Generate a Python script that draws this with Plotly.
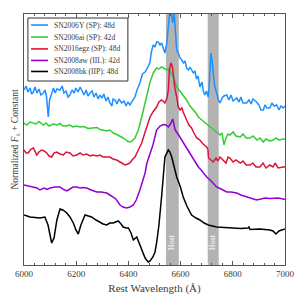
import plotly.graph_objects as go

# ---------------- data ----------------
names = ["SN2006Y (SP): 48d", "SN2006ai (SP): 42d", "SN2016egz (SP): 48d",
         "SN2008aw (IIL): 42d", "SN2008bk (IIP): 48d"]
colors = ["#1e90ff", "#32cd32", "#dc143c", "#9400d3", "#000000"]

wl_06Y = [6000,6008,6015,6023,6029,6036,6042,6050,6057,6065,6074,6080,6086,6093,6098,6106,6113,6119,6126,6138,
          6146,6153,6161,6169,6176,6184,6192,6199,6207,6215,6221,6230,6238,6245,6253,6261,6268,6276,6284,6291,
          6299,6306,6314,6322,6329,6337,6341,6349,6356,6364,6374,6383,6391,6398,6406,6414,6425,6433,6444,6454,
          6464,6473,6483,6488,6495,6502,6508,6514,6521,6527,6533,6540,6547,6552,6557,6561,6565,6570,6575,6580,
          6585,6590,6596,6604,6611,6617,6623,6630,6636,6649,6655,6661,6667,6674,6682,6688,6693,6699,6706,6711,
          6716,6720,6725,6730,6738,6745,6751,6759,6766,6777,6785,6793,6801,6815,6824,6831,6839,6853,6862,6870,
          6877,6891,6900,6908,6917,6923,6931,6942,6950,6958,6968,6977,6985,6993,7000]
fl_06Y = [1.75,1.79,1.73,1.77,1.71,1.73,1.78,1.72,1.76,1.70,1.72,1.75,1.69,1.48,1.65,1.72,1.77,1.72,1.76,1.75,
          1.79,1.72,1.74,1.68,1.70,1.75,1.72,1.77,1.73,1.78,1.75,1.70,1.75,1.69,1.72,1.74,1.68,1.72,1.66,1.70,
          1.67,1.71,1.64,1.68,1.62,1.59,1.66,1.65,1.61,1.66,1.62,1.64,1.59,1.63,1.60,1.64,1.68,1.75,1.82,1.91,
          1.93,1.97,2.03,2.13,2.20,2.18,2.23,2.23,2.20,2.22,2.18,2.12,2.22,2.40,2.53,2.60,2.50,2.42,2.53,2.35,
          2.15,2.13,2.08,2.05,2.02,2.04,1.97,1.95,1.98,1.92,1.94,1.86,1.89,1.78,1.83,1.73,1.70,1.74,1.68,1.85,
          2.12,2.05,1.95,1.80,1.72,1.65,1.62,1.67,1.69,1.70,1.65,1.70,1.64,1.67,1.63,1.68,1.62,1.62,1.65,1.61,
          1.66,1.63,1.60,1.55,1.55,1.60,1.57,1.57,1.62,1.59,1.60,1.55,1.59,1.57,1.59]

wl_06ai = [6000,6011,6023,6036,6046,6057,6074,6084,6096,6112,6126,6138,6149,6164,6176,6188,6199,6215,6230,6245,
           6265,6280,6291,6304,6318,6329,6342,6356,6368,6380,6391,6398,6406,6414,6425,6438,6451,6464,6475,6483,
           6495,6508,6517,6527,6534,6547,6555,6566,6575,6585,6594,6604,6613,6623,6636,6649,6659,6668,6681,6693,
           6713,6724,6738,6751,6759,6766,6774,6782,6789,6801,6812,6829,6839,6851,6866,6877,6893,6904,6917,6927,
           6942,6955,6965,6977,6993,7000]
fl_06ai = [1.42,1.40,1.43,1.42,1.41,1.435,1.40,1.42,1.39,1.41,1.40,1.415,1.39,1.39,1.40,1.38,1.39,1.38,1.385,1.365,
           1.37,1.375,1.355,1.35,1.34,1.35,1.32,1.305,1.29,1.27,1.25,1.235,1.23,1.24,1.27,1.35,1.48,1.62,1.73,1.83,
           1.92,1.97,1.96,1.98,1.97,1.95,1.96,1.90,1.86,1.78,1.75,1.72,1.69,1.65,1.59,1.55,1.52,1.48,1.45,1.42,
           1.38,1.36,1.33,1.30,1.32,1.20,1.27,1.31,1.30,1.33,1.29,1.28,1.31,1.27,1.27,1.29,1.25,1.27,1.23,1.26,
           1.24,1.25,1.27,1.25,1.26,1.26]

wl_16egz = [6000,6008,6016,6027,6036,6042,6049,6057,6068,6077,6087,6096,6106,6115,6125,6138,6151,6161,6176,6188,
            6202,6215,6226,6240,6253,6264,6279,6291,6303,6317,6329,6341,6355,6368,6379,6387,6398,6406,6414,6425,
            6438,6451,6464,6475,6483,6494,6508,6517,6527,6533,6540,6548,6553,6557,6563,6568,6572,6578,6585,6591,
            6598,6605,6610,6617,6623,6632,6642,6651,6662,6674,6686,6700,6705,6707,6716,6725,6736,6743,6751,6764,
            6774,6782,6789,6801,6812,6829,6839,6851,6866,6877,6889,6904,6916,6927,6942,6954,6962,6974,6985,6993,7000]
fl_16egz = [1.15,1.12,1.12,1.16,1.17,1.13,1.10,1.13,1.15,1.14,1.12,1.09,1.08,1.12,1.13,1.11,1.10,1.13,1.12,1.09,
            1.10,1.12,1.10,1.11,1.09,1.10,1.09,1.10,1.08,1.08,1.08,1.06,1.05,1.03,1.01,1.00,1.01,1.02,1.05,1.08,
            1.15,1.22,1.33,1.43,1.48,1.53,1.58,1.63,1.65,1.64,1.62,1.67,1.75,1.95,2.02,1.99,1.88,1.77,1.68,1.58,
            1.55,1.57,1.53,1.48,1.45,1.40,1.37,1.32,1.27,1.25,1.21,1.18,1.15,1.07,1.05,1.03,1.07,1.04,1.08,1.05,
            1.02,1.08,1.07,1.03,1.05,1.02,1.04,1.00,1.00,1.02,0.98,0.98,1.02,0.97,1.00,0.98,1.02,0.97,0.98,0.98,0.98]

wl_08aw = [6000,6015,6036,6050,6061,6077,6088,6100,6119,6138,6149,6164,6176,6188,6202,6215,6226,6240,6257,6279,
           6295,6317,6329,6342,6352,6368,6379,6393,6406,6419,6430,6444,6456,6464,6471,6483,6494,6508,6521,6534,
           6544,6553,6561,6570,6575,6579,6590,6604,6621,6636,6651,6668,6682,6700,6717,6738,6755,6777,6793,6815,
           6831,6853,6870,6891,6908,6923,6942,6955,6973,6993,7000]
fl_08aw = [0.80,0.79,0.78,0.77,0.75,0.77,0.755,0.77,0.78,0.78,0.76,0.74,0.76,0.78,0.78,0.77,0.775,0.77,0.75,0.73,
           0.73,0.72,0.70,0.68,0.66,0.60,0.58,0.57,0.58,0.60,0.65,0.75,0.85,0.92,1.02,1.12,1.20,1.35,1.39,1.405,
           1.40,1.38,1.41,1.46,1.39,1.35,1.31,1.25,1.18,1.12,1.05,0.98,0.94,0.88,0.84,0.78,0.76,0.73,0.73,0.72,
           0.70,0.68,0.67,0.65,0.66,0.67,0.665,0.67,0.67,0.66,0.655]

wl_08bk = [6000,6023,6061,6080,6092,6106,6115,6126,6138,6149,6164,6176,6189,6199,6208,6218,6234,6245,6259,6276,
           6291,6303,6317,6329,6342,6352,6361,6372,6380,6391,6400,6410,6419,6432,6444,6456,6464,6476,6483,6494,
           6502,6508,6517,6527,6533,6540,6553,6559,6566,6575,6585,6598,6610,6624,6642,6659,6674,6690,6706,6738,
           6770,6802,6831,6859,6862,6866,6904,6942,6954,6965,6977,6987,7000]
fl_08bk = [0.50,0.48,0.47,0.48,0.40,0.22,0.27,0.45,0.56,0.55,0.52,0.48,0.42,0.35,0.31,0.40,0.50,0.49,0.48,0.45,
           0.43,0.41,0.40,0.42,0.42,0.43,0.44,0.41,0.38,0.37,0.37,0.32,0.25,0.28,0.20,0.12,0.07,0.03,0.04,0.08,
           0.13,0.22,0.40,0.68,0.90,1.08,1.15,1.13,1.08,0.98,0.88,0.79,0.68,0.59,0.50,0.47,0.45,0.42,0.40,0.38,
           0.375,0.37,0.365,0.37,0.38,0.355,0.36,0.35,0.34,0.31,0.34,0.35,0.36]

series = [(wl_06Y, fl_06Y), (wl_06ai, fl_06ai), (wl_16egz, fl_16egz), (wl_08aw, fl_08aw), (wl_08bk, fl_08bk)]

host_bands = [(6544, 6593), (6704, 6746)]
host_label = "Host"
x_ticks = [6000, 6200, 6400, 6600, 6800, 7000]

# ---------------- figure ----------------
FONT = "Liberation Serif"
TXT = "#3a3a3a"
fig = go.Figure()

for (wl, fl), name, col in zip(series, names, colors):
    fig.add_trace(go.Scatter(x=wl, y=fl, mode="lines", name=name, showlegend=False,
                             line=dict(color=col, width=1.5)))

for x0, x1 in host_bands:
    fig.add_shape(type="rect", xref="x", yref="paper", x0=x0, x1=x1, y0=0, y1=1,
                  fillcolor="#b3b3b3", line=dict(width=0), layer="below")
    fig.add_annotation(x=(x0 + x1) / 2, xref="x", y=0.052, yref="paper",
                       text=host_label, textangle=-90, showarrow=False,
                       font=dict(family=FONT, size=8, color="white"))

# hand-drawn legend (compact, like the reference)
fig.add_shape(type="rect", xref="paper", yref="paper", x0=0.015, x1=0.398, y0=0.733, y1=0.984,
              fillcolor="white", line=dict(color="#333", width=1), layer="above")
row_y = [0.956, 0.908, 0.861, 0.815, 0.771]
for yy, name, col in zip(row_y, names, colors):
    fig.add_shape(type="line", xref="paper", yref="paper", x0=0.027, x1=0.092, y0=yy, y1=yy,
                  line=dict(color=col, width=1.6), layer="above")
    fig.add_annotation(x=0.108, y=yy, xref="paper", yref="paper", xanchor="left", yanchor="middle",
                       text=name, showarrow=False,
                       font=dict(family=FONT, size=7.6, color=TXT))

# page body has an 8px margin: shift margins so the plot area lands where the reference has it
fig.update_layout(
    width=307, height=307,
    margin=dict(l=16, r=30, t=6, b=50),
    paper_bgcolor="white", plot_bgcolor="white",
    font=dict(family=FONT, size=9, color=TXT),
    showlegend=False,
    xaxis=dict(range=[6000, 7000], tickvals=x_ticks, automargin=False,
               ticks="inside", ticklen=4, tickcolor="#555",
               minor=dict(dtick=40, ticks="inside", ticklen=2, tickcolor="#555"),
               showline=True, linecolor="#555", linewidth=1, mirror="ticks",
               showgrid=False, zeroline=False,
               title=dict(text="Rest Wavelength (Å)", font=dict(family=FONT, size=11, color=TXT),
                          standoff=6),
               tickfont=dict(family=FONT, size=9, color=TXT)),
    yaxis=dict(range=[0, 2.51], showticklabels=False, ticks="", automargin=False,
               showline=True, linecolor="#555", linewidth=1, mirror=True,
               showgrid=False, zeroline=False,
               title=dict(text="Normalized <i>F</i><sub>λ</sub> + Constant",
                          font=dict(family=FONT, size=9.5, color=TXT), standoff=2)),
)

fig.write_html("out.html")
